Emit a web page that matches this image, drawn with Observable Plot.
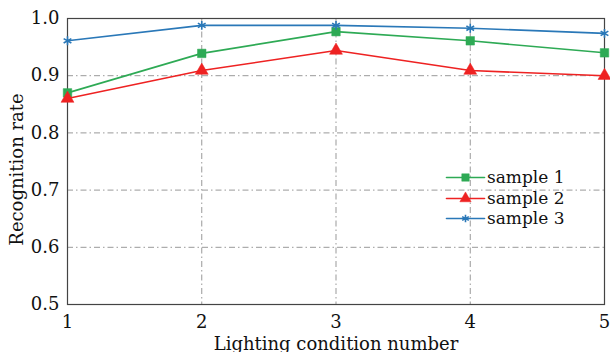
<!DOCTYPE html>
<html><head><meta charset="utf-8">
<script src="https://cdn.jsdelivr.net/npm/d3@7"></script>
<script src="https://cdn.jsdelivr.net/npm/@observablehq/plot@0.6"></script>
<style>
body{margin:0;background:#fff;}
#wrap{position:relative;width:610px;height:352px;}
#legend{position:absolute;left:446px;top:167px;font-family:"DejaVu Serif","Liberation Serif",serif;font-size:17px;color:#111;}
#legend .row{display:flex;align-items:center;height:20.5px;}
#legend svg{margin-right:3px;}
</style>
</head><body>
<div id="wrap"><div id="legend"></div></div>
<script>
const conditions = [1, 2, 3, 4, 5];
const seriesNames = ["sample 1", "sample 2", "sample 3"];
const sample1 = [0.870, 0.939, 0.977, 0.961, 0.940];
const sample2 = [0.860, 0.909, 0.944, 0.909, 0.900];
const sample3 = [0.961, 0.988, 0.988, 0.983, 0.974];
const yTicks = [0.5, 0.6, 0.7, 0.8, 0.9, 1.0];
const colors = ["#2eaa55", "#ee2222", "#2a78b8"];
const symbols = ["square", "triangle", "asterisk"];

const values = [sample1, sample2, sample3];
const data = [];
values.forEach((vals, i) => vals.forEach((v, j) => data.push({x: conditions[j], y: v, s: seriesNames[i]})));

const font = '"DejaVu Serif","Liberation Serif",serif';
const grid = {stroke: "#999", strokeWidth: 1, strokeDasharray: "6,3,1.5,3"};
const radii = [4.8, 4.8, 4.2];

const marks = [
  Plot.ruleY([0.6, 0.7, 0.8, 0.9], grid),
  Plot.ruleX([2, 3, 4], grid),
  Plot.frame({stroke: "#444", strokeWidth: 1.2}),
  Plot.axisX(conditions, {tickSize: 0, tickPadding: 11, fontSize: 18, tickFormat: d => String(d), label: null}),
  Plot.axisY(yTicks, {tickSize: 0, tickPadding: 8, fontSize: 18, tickFormat: d => d.toFixed(1), label: null}),
  Plot.text(["Lighting condition number"], {frameAnchor: "bottom", dy: 45, fontSize: 18, fill: "#111", textAnchor: "middle"}),
  Plot.text(["Recognition rate"], {frameAnchor: "left", rotate: -90, dx: -50, dy: 8, fontSize: 18, fill: "#111", textAnchor: "middle"})
];
seriesNames.forEach((name, i) => {
  const d = data.filter(r => r.s === name);
  marks.push(Plot.line(d, {x: "x", y: "y", stroke: colors[i], strokeWidth: 1.6}));
  marks.push(Plot.dot(d, {x: "x", y: "y", symbol: () => symbols[i], fill: i === 2 ? "none" : colors[i], stroke: colors[i], strokeWidth: i === 2 ? 1.6 : 0.5, r: radii[i]}));
});

const chart = Plot.plot({
  width: 610, height: 352,
  marginLeft: 67, marginRight: 6, marginTop: 18, marginBottom: 48,
  style: {fontFamily: font, color: "#111", background: "#fff", overflow: "visible"},
  x: {domain: [1, 5], axis: null},
  y: {domain: [0.5, 1.0], axis: null},
  symbol: {type: "identity"},
  marks
});
document.getElementById("wrap").prepend(chart);

const leg = document.getElementById("legend");
seriesNames.forEach((name, i) => {
  const row = document.createElement("div");
  row.className = "row";
  const sym = Plot.plot({
    width: 38, height: 14, margin: 0,
    x: {domain: [0, 1], axis: null}, y: {domain: [0, 1], axis: null},
    symbol: {type: "identity"},
    marks: [
      Plot.lineX([0, 1], {y: 0.5, stroke: colors[i], strokeWidth: 1.6}),
      Plot.dot([0.5], {x: d => d, y: 0.5, symbol: () => symbols[i], fill: i === 2 ? "none" : colors[i], stroke: colors[i], strokeWidth: i === 2 ? 1.6 : 0.5, r: radii[i] - 0.6})
    ]
  });
  sym.style.overflow = "visible";
  row.appendChild(sym);
  const t = document.createElement("span");
  t.textContent = name;
  row.appendChild(t);
  leg.appendChild(row);
});
</script>
</body></html>
